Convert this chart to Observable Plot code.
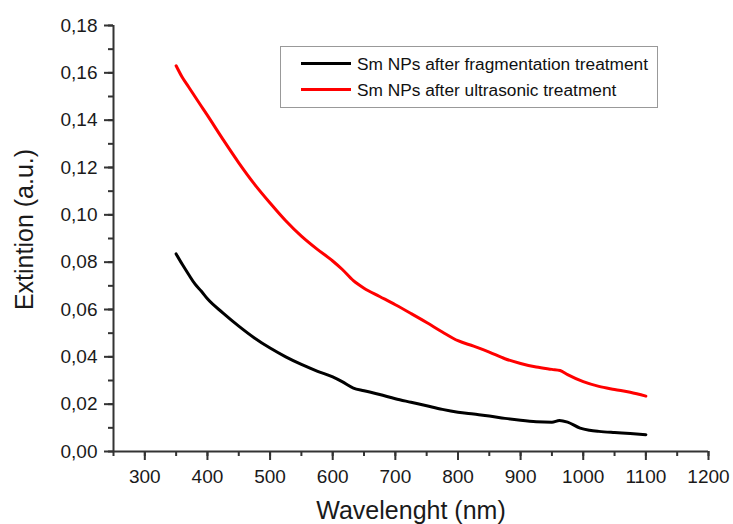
<!DOCTYPE html>
<html><head><meta charset="utf-8">
<script src="https://cdn.jsdelivr.net/npm/d3@7"></script>
<script src="https://cdn.jsdelivr.net/npm/@observablehq/plot@0.6"></script>
<style>
body{margin:0;background:#fff;font-family:"Liberation Sans",Arial,sans-serif}
#wrap{position:relative;width:733px;height:524px}
#legend{position:absolute;left:280px;top:46px;width:378px;height:62px;border:1px solid #999;box-sizing:border-box;background:#fff}
.row{position:absolute;left:0;height:20px;font-size:17.3px;color:#111;white-space:nowrap}
.sw{position:absolute;left:20px;top:8px;width:50px;height:3px}
.lab{position:absolute;left:76px;top:0;line-height:20px}
</style></head><body>
<div id="wrap">
  <div id="legend"></div>
</div>
<script>
const seriesNames = ["Sm NPs after fragmentation treatment", "Sm NPs after ultrasonic treatment"];
const seriesColors = ["#000000", "#ff0000"];

const wlFrag = [350,360,370,380,390,400,425,450,475,500,525,550,575,600,615,633,650,675,700,725,750,775,800,825,850,875,900,925,950,962,975,995,1010,1025,1050,1075,1100];
const extFrag = [0.0835,0.0790,0.0748,0.0708,0.0678,0.0645,0.0585,0.0530,0.0480,0.0437,0.0400,0.0368,0.0340,0.0315,0.0295,0.0268,0.0257,0.0241,0.0223,0.0208,0.0193,0.0178,0.0166,0.0158,0.0150,0.0140,0.0132,0.0126,0.0124,0.0131,0.0124,0.0099,0.0090,0.0085,0.0080,0.0076,0.0071];

const wlUltra = [350,360,370,380,390,400,425,450,475,500,525,550,575,600,615,633,650,675,700,725,750,775,800,825,850,875,900,925,950,963,975,1000,1025,1050,1075,1100];
const extUltra = [0.1630,0.1580,0.1540,0.1500,0.1460,0.1420,0.1318,0.1220,0.1130,0.1050,0.0975,0.0910,0.0855,0.0805,0.0770,0.0722,0.0690,0.0655,0.0620,0.0583,0.0545,0.0505,0.0468,0.0445,0.0420,0.0392,0.0372,0.0357,0.0347,0.0342,0.0325,0.0295,0.0275,0.0262,0.0250,0.0234];

const xMajor = [300,400,500,600,700,800,900,1000,1100,1200];
const xMinor = [250,300,350,400,450,500,550,600,650,700,750,800,850,900,950,1000,1050,1100,1150,1200];
const yMajor = [0,0.02,0.04,0.06,0.08,0.10,0.12,0.14,0.16,0.18];
const yMinor = [0,0.01,0.02,0.03,0.04,0.05,0.06,0.07,0.08,0.09,0.10,0.11,0.12,0.13,0.14,0.15,0.16,0.17,0.18];
const xTitle = "Wavelenght (nm)";
const yTitle = "Extintion (a.u.)";

const frag = wlFrag.map((w,i)=>({w, v: extFrag[i]}));
const ultra = wlUltra.map((w,i)=>({w, v: extUltra[i]}));
const fmt = d => d3.format(".2f")(d).replace(".", ",");
const axisColor = "#333";

const chart = Plot.plot({
  width: 733, height: 524,
  marginLeft: 113, marginRight: 25, marginTop: 25, marginBottom: 73,
  style: {fontFamily: "'Liberation Sans', Arial, sans-serif", fontSize: "19px", color: "#1a1a1a", background: "#fff", overflow: "visible"},
  x: {domain: [250, 1200]},
  y: {domain: [0, 0.18]},
  marks: [
    Plot.axisX({ticks: xMinor, tickSize: 5, tickFormat: () => "", label: null, stroke: axisColor, strokeWidth: 2}),
    Plot.axisX({ticks: xMajor, tickSize: 9, tickPadding: 9, tickFormat: d => String(d), label: null, stroke: axisColor, strokeWidth: 2, fill: "#1a1a1a"}),
    Plot.axisY({ticks: yMinor, tickSize: 5, tickFormat: () => "", label: null, stroke: axisColor, strokeWidth: 2}),
    Plot.axisY({ticks: yMajor, tickSize: 9, tickPadding: 7, tickFormat: fmt, label: null, stroke: axisColor, strokeWidth: 2, fill: "#1a1a1a"}),
    Plot.ruleY([0], {stroke: axisColor, strokeWidth: 2}),
    Plot.ruleX([250], {stroke: axisColor, strokeWidth: 2}),
    Plot.line(frag, {x: "w", y: "v", stroke: seriesColors[0], strokeWidth: 3, curve: "monotone-x"}),
    Plot.line(ultra, {x: "w", y: "v", stroke: seriesColors[1], strokeWidth: 3, curve: "monotone-x"}),
    Plot.text([xTitle], {frameAnchor: "bottom", textAnchor: "middle", dy: 67, fontSize: 25, fill: "#1a1a1a"}),
    Plot.text([yTitle], {frameAnchor: "left", textAnchor: "middle", dx: -89, dy: -9, rotate: -90, fontSize: 25, fill: "#1a1a1a"})
  ]
});
const wrap = document.getElementById("wrap");
wrap.insertBefore(chart, wrap.firstChild);

const legend = document.getElementById("legend");
seriesNames.forEach((name, i) => {
  const row = document.createElement("div");
  row.className = "row";
  row.style.top = (7 + i * 26) + "px";
  row.style.width = "100%";
  const sw = document.createElement("div");
  sw.className = "sw"; sw.style.background = seriesColors[i];
  const lab = document.createElement("div");
  lab.className = "lab"; lab.textContent = name;
  row.appendChild(sw); row.appendChild(lab);
  legend.appendChild(row);
});
</script>
</body></html>
